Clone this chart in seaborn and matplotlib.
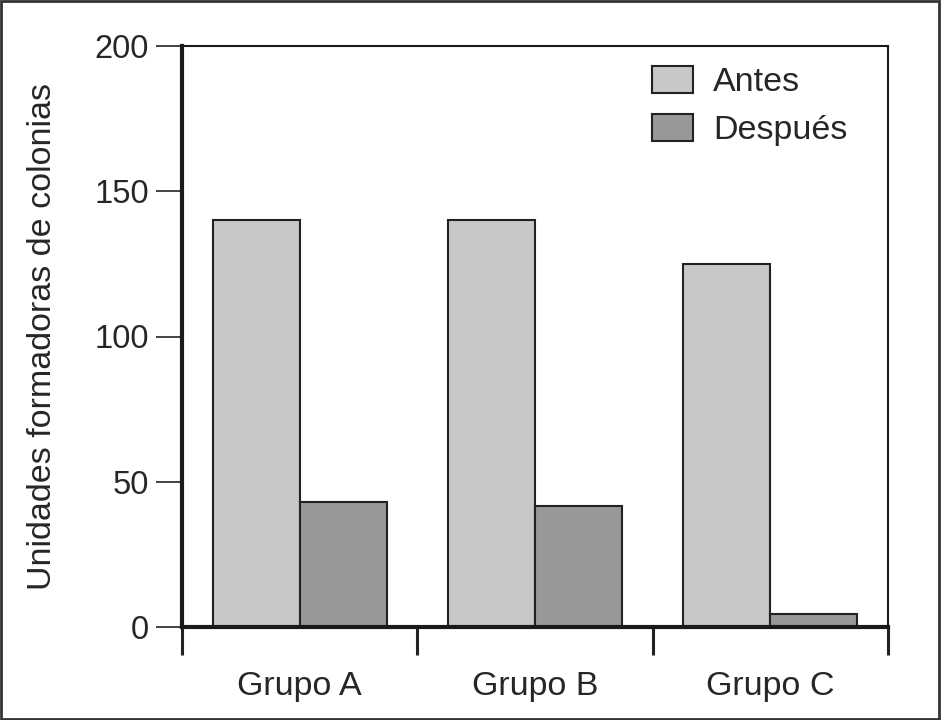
import numpy as np
import pandas as pd
import matplotlib
matplotlib.use("Agg")
import matplotlib.pyplot as plt
import seaborn as sns
from matplotlib.patches import Rectangle

# Datos
grupos = ["Grupo A", "Grupo B", "Grupo C"]
antes = [140, 140, 125]
despues = [43, 41.5, 4.5]
momentos = ["Antes", "Después"]
colores = ["#c8c8c8", "#989898"]

df = pd.DataFrame({
    "grupo": grupos * 2,
    "momento": [momentos[0]] * 3 + [momentos[1]] * 3,
    "ufc": antes + despues,
})

sns.set_style("white")
plt.rcParams["font.family"] = ["Liberation Sans", "DejaVu Sans"]

fig = plt.figure(figsize=(9.41, 7.2), dpi=100)
ax = fig.add_axes([182 / 941, 93 / 720, 706 / 941, 581 / 720])

sns.barplot(data=df, x="grupo", y="ufc", hue="momento", palette=colores,
            width=0.74, edgecolor="#222222", linewidth=1.5, ax=ax)

ax.set_xlim(-0.5, 2.5)
ax.set_ylim(0, 200)
ax.set_yticks([0, 50, 100, 150, 200])
ax.tick_params(axis="y", direction="out", length=19, width=1.2, color="#222222",
               labelsize=23.5, pad=5, left=True)
ax.tick_params(axis="x", which="major", length=0, labelsize=24.5, pad=32)
ax.set_xticks([-0.5, 0.5, 1.5, 2.5], minor=True)
ax.tick_params(axis="x", which="minor", direction="out", length=20, width=2.2,
               color="#222222", bottom=True)

ax.set_xlabel("")
ax.set_ylabel("Unidades formadoras de colonias", fontsize=24.5, labelpad=26)

for side in ["left", "bottom"]:
    ax.spines[side].set_linewidth(3)
    ax.spines[side].set_color("#1a1a1a")
for side in ["top", "right"]:
    ax.spines[side].set_linewidth(1.5)
    ax.spines[side].set_color("#1a1a1a")
    ax.spines[side].set_visible(True)
ax.spines["bottom"].set_zorder(5)

ax.legend(title=None, frameon=False, fontsize=24.5, loc="upper left",
          bbox_to_anchor=(0.666, 0.965), borderpad=0, borderaxespad=0,
          handlelength=1.2, handleheight=0.82, handletextpad=0.58,
          labelspacing=0.47)

# marco alrededor de la figura
fig.patches.append(Rectangle((0.001, 0.001), 0.997, 0.997, transform=fig.transFigure,
                             fill=False, edgecolor="#333333", linewidth=2))

fig.savefig("out.png", dpi=100)
